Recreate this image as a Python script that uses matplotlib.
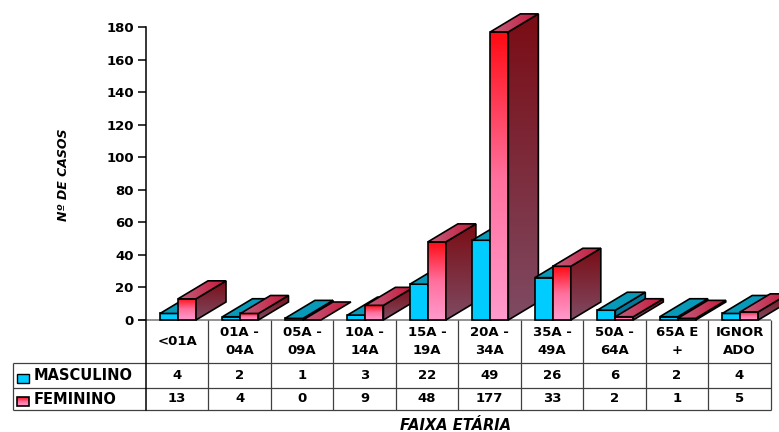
import numpy as np
import matplotlib
matplotlib.use('Agg')
import matplotlib.pyplot as plt
from matplotlib.colors import LinearSegmentedColormap
from matplotlib.patches import Polygon, Rectangle

plt.rcParams['font.family'] = ['DejaVu Sans']
plt.rcParams['font.weight'] = 'bold'

# data
age_groups = ['<01A', '01A -\n04A', '05A -\n09A', '10A -\n14A', '15A -\n19A',
              '20A -\n34A', '35A -\n49A', '50A -\n64A', '65A E\n+', 'IGNOR\nADO']
masculino = [4, 2, 1, 3, 22, 49, 26, 6, 2, 4]
feminino = [13, 4, 0, 9, 48, 177, 33, 2, 1, 5]
series_names = ['MASCULINO', 'FEMININO']
y_ticks = list(range(0, 181, 20))

# layout of the original picture, in pixels
ORIGIN_X, ORIGIN_Y = 146, 320      # where (0, 0) sits
CAT_PX = 62.47                     # width of one category
UNIT_PX = 293 / 180                # pixels per case


def px_x(px):
    return (px - ORIGIN_X) / CAT_PX


def px_y(py):
    return (ORIGIN_Y - py) / UNIT_PX


BAR_W = 18 / CAT_PX
BAR_OFF = 14 / CAT_PX
DEPTH_X = 30 / CAT_PX
DEPTH_Y = 18 / UNIT_PX

BLUE_FRONT, BLUE_TOP, BLUE_SIDE = '#00ccff', '#0899b9', '#00789a'
pink_front = LinearSegmentedColormap.from_list('pf', ['#ff9bcd', '#ff6f9c', '#ff0a12'])
pink_side = LinearSegmentedColormap.from_list('ps', ['#7f4b63', '#7a0c14'])
pink_top = LinearSegmentedColormap.from_list('pt', ['#c0607f', '#c8183a'])
EDGE_LW = 1.2
FS = 9.5


def solid_face(ax, verts, color, z):
    ax.add_patch(Polygon(verts, closed=True, facecolor=color, edgecolor='black',
                         lw=EDGE_LW, zorder=z, joinstyle='miter'))


def grad_face(ax, verts, cmap, vertical, z):
    verts = np.asarray(verts, dtype=float)
    x0, y0 = verts.min(axis=0)
    x1, y1 = verts.max(axis=0)
    poly = Polygon(verts, closed=True, facecolor='none', edgecolor='black',
                   lw=EDGE_LW, zorder=z + 0.05, joinstyle='miter')
    ax.add_patch(poly)
    if y1 - y0 > 1e-9 and x1 - x0 > 1e-9:
        g = np.linspace(0, 1, 128)
        arr = g[:, None] if vertical else g[None, :]
        im = ax.imshow(arr, cmap=cmap, extent=(x0, x1, y0, y1), origin='lower',
                       aspect='auto', interpolation='bilinear', zorder=z)
        im.set_clip_path(poly)


def bar3d(ax, x0, h, z, solid=None):
    x1 = x0 + BAR_W
    front = [(x0, 0), (x1, 0), (x1, h), (x0, h)]
    side = [(x1, 0), (x1 + DEPTH_X, DEPTH_Y), (x1 + DEPTH_X, h + DEPTH_Y), (x1, h)]
    top = [(x0, h), (x1, h), (x1 + DEPTH_X, h + DEPTH_Y), (x0 + DEPTH_X, h + DEPTH_Y)]
    if solid is not None:
        if h > 0:
            solid_face(ax, front, solid[0], z)
            solid_face(ax, side, solid[2], z + 0.1)
        solid_face(ax, top, solid[1], z + 0.2)
    else:
        if h > 0:
            grad_face(ax, front, pink_front, True, z)
            grad_face(ax, side, pink_side, True, z + 0.1)
        grad_face(ax, top, pink_top, False, z + 0.2)


fig = plt.figure(figsize=(7.79, 4.32), dpi=100)
ax = fig.add_axes([0, 0, 1, 1])
ax.set_autoscale_on(False)
ax.set_xlim(px_x(0), px_x(779))
ax.set_ylim(px_y(432), px_y(0))

# baseline
ax.hlines(0, px_x(138), 10, color='#808080', lw=1.2, zorder=1)

z = 2
for i, (m, f) in enumerate(zip(masculino, feminino)):
    bar3d(ax, i + BAR_OFF, m, z, solid=(BLUE_FRONT, BLUE_TOP, BLUE_SIDE))
    z += 1
    bar3d(ax, i + BAR_OFF + BAR_W, f, z)
    z += 1

# axis
for s in ['top', 'right', 'bottom']:
    ax.spines[s].set_visible(False)
row_hdr, row_m, row_f = px_y(363), px_y(388), px_y(410)
ax.spines['left'].set_position(('data', 0))
ax.spines['left'].set_bounds(row_f, 180)
ax.spines['left'].set_linewidth(1.1)
ax.spines['left'].set_zorder(z + 1)
ax.set_xticks([])
ax.set_yticks(y_ticks)
ax.tick_params(axis='y', length=5.8, width=1.1, pad=3, labelsize=FS)

# data table
table_left = px_x(12.7)
tcol = '#404040'
for yy in (row_hdr, row_m, row_f):
    ax.hlines(yy, table_left, 10, color=tcol, lw=0.9)
ax.vlines(range(1, 11), row_f, 0, color=tcol, lw=0.9)
ax.vlines(table_left, row_f, row_hdr, color=tcol, lw=0.9)

for i, lab in enumerate(age_groups):
    ax.text(i + 0.5, row_hdr / 2, lab, ha='center', va='center', fontsize=FS,
            linespacing=1.5)
    ax.text(i + 0.5, (row_hdr + row_m) / 2, str(masculino[i]), ha='center',
            va='center', fontsize=FS)
    ax.text(i + 0.5, (row_m + row_f) / 2, str(feminino[i]), ha='center',
            va='center', fontsize=FS)

# legend keys inside the table
kx0, kx1 = px_x(17.3), px_x(29.3)
ax.add_patch(Rectangle((kx0, px_y(382.7)), kx1 - kx0, px_y(374) - px_y(382.7),
                       facecolor=BLUE_FRONT, edgecolor='black', lw=1.0, zorder=5))
grad_face(ax, [(kx0, px_y(406)), (kx1, px_y(406)), (kx1, px_y(397.3)), (kx0, px_y(397.3))],
          pink_front, True, 5)
ax.text(px_x(34), (row_hdr + row_m) / 2, series_names[0], ha='left', va='center',
        fontsize=10.5)
ax.text(px_x(34), (row_m + row_f) / 2, series_names[1], ha='left', va='center',
        fontsize=10.5)

# axis titles
ax.text(px_x(64), px_y(175), 'Nº DE CASOS', rotation=90, ha='center', va='center',
        style='italic', fontsize=9)
ax.text(px_x(456), px_y(425), 'FAIXA ETÁRIA', ha='center', va='center',
        style='italic', fontsize=10.5)

fig.savefig('out.png', dpi=100)
plt.close(fig)
